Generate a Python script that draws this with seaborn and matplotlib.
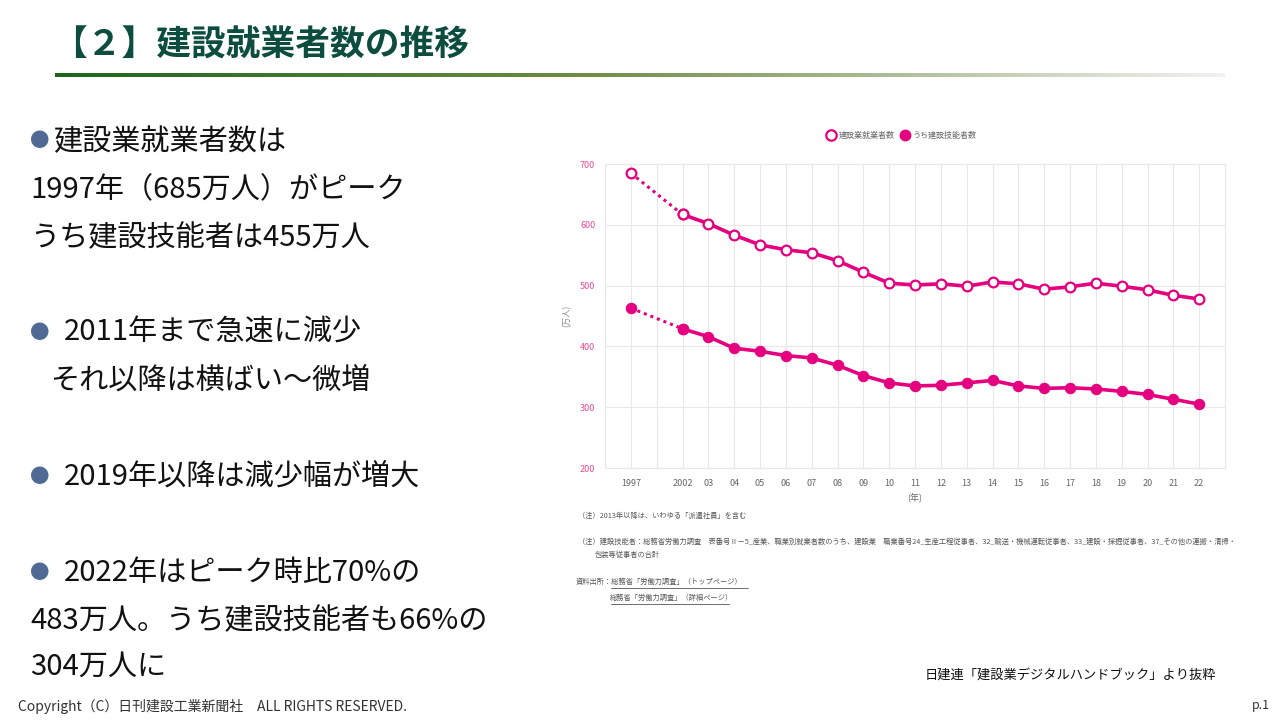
import numpy as np
import pandas as pd
import seaborn as sns
import matplotlib.pyplot as plt
from matplotlib.lines import Line2D

sns.set_theme(style='white')
plt.rcParams['font.family'] = ['Noto Sans CJK JP', 'DejaVu Sans']

PINK = '#E4007F'
GREEN = '#0D4D3F'
BULLET = '#4F6A94'

# data (万人)
years = ['1997', '2002', '03', '04', '05', '06', '07', '08', '09', '10', '11',
         '12', '13', '14', '15', '16', '17', '18', '19', '20', '21', '22']
tick_labels = ['1997', ''] + years[1:]
total = [685, 617, 602, 583, 567, 559, 554, 541, 522, 504, 501,
         503, 499, 506, 503, 494, 498, 504, 499, 493, 484, 478]
skilled = [463, 429, 416, 397, 392, 385, 381, 369, 352, 340, 335,
           336, 340, 344, 335, 331, 332, 330, 326, 321, 313, 305]
series_names = ['建設業就業者数', 'うち建設技能者数']

df = pd.DataFrame({'year': years, 'total': total, 'skilled': skilled})
df['pos'] = [tick_labels.index(y) for y in years]

fig = plt.figure(figsize=(12.8, 7.2), dpi=100)
fig.patch.set_facecolor('white')

# title + gradient rule
fig.text(52 / 1280, 1 - 45 / 720, '【２】建設就業者数の推移', fontsize=25, fontweight='bold',
         color=GREEN, va='center', ha='left')
gax = fig.add_axes([55 / 1280, 1 - 77 / 720, 1170 / 1280, 4 / 720])
t = np.linspace(0, 1, 400)
c0 = np.array([0x1B, 0x66, 0x1B]) / 255
c1 = np.array([0x6E, 0x8C, 0x45]) / 255
c2 = np.array([0xF2, 0xF2, 0xF2]) / 255
cols = np.where(t[:, None] < 0.45, c0 + (c1 - c0) * (t[:, None] / 0.45),
                c1 + (c2 - c1) * ((t[:, None] - 0.45) / 0.55))
gax.imshow(cols[None, :, :], aspect='auto', extent=[0, 1, 0, 1])
gax.axis('off')

# left bullet text
def bullet(x, y):
    fig.text(x / 1280, 1 - y / 720, '●', fontsize=14, color=BULLET, va='center', ha='left')

def line(x, y, s):
    fig.text(x / 1280, 1 - y / 720, s, fontsize=21, color='#111111', va='center', ha='left')

bullet(30, 142)
line(53, 142, '建設業就業者数は')
line(30, 190, '1997年（685万人）がピーク')
line(30, 238, 'うち建設技能者は455万人')
bullet(30, 333)
line(64, 333, '2011年まで急速に減少')
line(50, 381, 'それ以降は横ばい～微増')
bullet(30, 477)
line(64, 477, '2019年以降は減少幅が増大')
bullet(30, 573)
line(64, 573, '2022年はピーク時比70%の')
line(30, 621, '483万人。うち建設技能者も66%の')
line(30, 667, '304万人に')

# chart
ax = fig.add_axes([605 / 1280, 1 - 468 / 720, 620 / 1280, 304 / 720])
first = df.iloc[:2]
rest = df.iloc[1:]

sns.lineplot(data=first, x='pos', y='total', ax=ax, color=PINK, lw=2.2,
             linestyle=(0, (1, 1.3)), marker='o', markersize=7,
             markerfacecolor='white', markeredgecolor=PINK, markeredgewidth=1.6)
sns.lineplot(data=rest, x='pos', y='total', ax=ax, color=PINK, lw=2.6,
             marker='o', markersize=7, markerfacecolor='white',
             markeredgecolor=PINK, markeredgewidth=1.6)
sns.lineplot(data=first, x='pos', y='skilled', ax=ax, color=PINK, lw=2.2,
             linestyle=(0, (1, 1.3)), marker='o', markersize=7.5,
             markerfacecolor=PINK, markeredgecolor=PINK)
sns.lineplot(data=rest, x='pos', y='skilled', ax=ax, color=PINK, lw=2.6,
             marker='o', markersize=7.5, markerfacecolor=PINK, markeredgecolor=PINK)

ax.set_xlim(-1, len(tick_labels))
ax.set_ylim(200, 700)
ax.set_yticks([200, 300, 400, 500, 600, 700])
ax.set_xticks(range(len(tick_labels)))
ax.set_xticklabels(tick_labels)
ax.grid(True, color='#E8E8E8', lw=0.8)
for s in ax.spines.values():
    s.set_color('#E8E8E8')
    s.set_linewidth(0.8)
ax.tick_params(axis='x', length=4, color='#E0E0E0', labelsize=6.5, labelcolor='#666666', pad=4)
ax.tick_params(axis='y', length=4, color='#E0E0E0', labelsize=6.5, labelcolor='#EC4A94', pad=3)
ax.set_xlabel('(年)', fontsize=6.5, color='#666666', labelpad=4)
ax.set_ylabel('(万人)', fontsize=6, color='#888888', labelpad=6)

handles = [Line2D([], [], ls='none', marker='o', markersize=7.5, markerfacecolor='white',
                  markeredgecolor=PINK, markeredgewidth=1.6),
           Line2D([], [], ls='none', marker='o', markersize=7.5, markerfacecolor=PINK,
                  markeredgecolor=PINK)]
fig.legend(handles, series_names, loc='center', bbox_to_anchor=(901 / 1280, 1 - 135 / 720),
           ncol=2, frameon=False, fontsize=5.8, labelcolor='#666666',
           handletextpad=0.3, columnspacing=0.6, handlelength=1.4)

# notes
note_kw = dict(fontsize=5.2, color='#555555', va='center', ha='left')
fig.text(578 / 1280, 1 - 516 / 720, '（注）2013年以降は、いわゆる「派遣社員」を含む', **note_kw)
fig.text(578 / 1280, 1 - 542 / 720,
         '（注）建設技能者：総務省労働力調査　表番号Ⅱ－5_産業、職業別就業者数のうち、建設業　職業番号24_生産工程従事者、'
         '32_輸送・機械運転従事者、33_建設・採掘従事者、37_その他の運搬・清掃・', **note_kw)
fig.text(595 / 1280, 1 - 555 / 720, '包装等従事者の合計', **note_kw)
fig.text(576 / 1280, 1 - 582 / 720, '資料出所：総務省「労働力調査」（トップページ）', **note_kw)
fig.text(610 / 1280, 1 - 598 / 720, '総務省「労働力調査」（詳細ページ）', **note_kw)
for y, x1 in [(588, 748), (604, 729)]:
    fig.add_artist(Line2D([611 / 1280, x1 / 1280], [1 - y / 720, 1 - y / 720],
                          color='#555555', lw=0.6))

# credits
fig.text(925 / 1280, 1 - 676 / 720, '日建連「建設業デジタルハンドブック」より抜粋',
         fontsize=9.5, color='#111111', va='center', ha='left')
fig.text(18 / 1280, 1 - 706 / 720, 'Copyright（C）日刊建設工業新聞社　ALL RIGHTS RESERVED.',
         fontsize=10, color='#333333', va='center', ha='left')
fig.text(1270 / 1280, 1 - 705 / 720, 'p.1', fontsize=9, color='#333333', va='center', ha='right')

fig.savefig('out.png', dpi=100, facecolor='white')
